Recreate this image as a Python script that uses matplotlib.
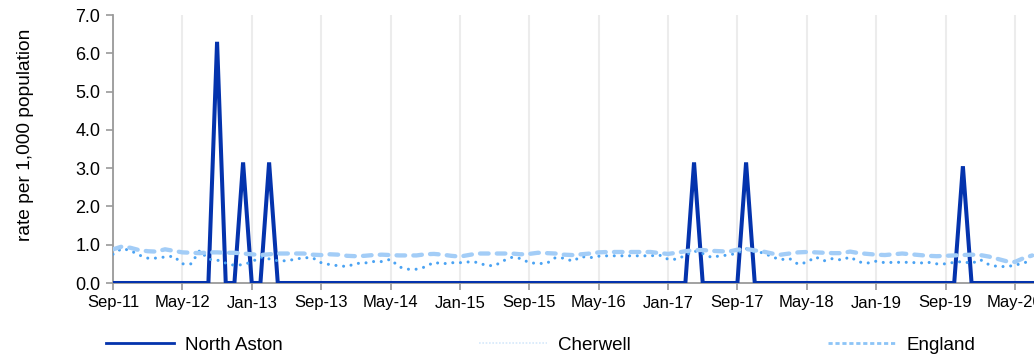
import matplotlib
matplotlib.use("Agg")
import matplotlib.pyplot as plt
from matplotlib.lines import Line2D
import pandas as pd
import numpy as np

plt.rcParams['font.family'] = ['Liberation Sans', 'DejaVu Sans']

# Monthly categories from Sep-2011
months = pd.date_range("2011-09-01", periods=107, freq="MS").strftime("%b-%y").tolist()

north_aston = [0.0] * 107
north_aston[12] = 6.3
north_aston[15] = 3.15
north_aston[18] = 3.15
north_aston[67] = 3.15
north_aston[73] = 3.15
north_aston[98] = 3.05

cherwell = [
    0.75, 0.90, 0.85, 0.73, 0.65, 0.65, 0.68, 0.70, 0.50, 0.50, 0.85, 0.62,
    0.60, 0.52, 0.46, 0.48, 0.55, 0.68, 0.63, 0.58, 0.58, 0.62, 0.66, 0.66,
    0.53, 0.48, 0.45, 0.43, 0.51, 0.52, 0.56, 0.56, 0.62, 0.42, 0.36, 0.36,
    0.42, 0.54, 0.50, 0.53, 0.53, 0.55, 0.54, 0.46, 0.45, 0.58, 0.67, 0.64,
    0.53, 0.51, 0.51, 0.66, 0.65, 0.57, 0.69, 0.66, 0.70, 0.71, 0.71, 0.71,
    0.71, 0.71, 0.71, 0.73, 0.62, 0.62, 0.72, 0.84, 0.77, 0.67, 0.71, 0.73,
    0.78, 0.90, 0.81, 0.79, 0.68, 0.61, 0.64, 0.49, 0.54, 0.68, 0.58, 0.64,
    0.60, 0.68, 0.55, 0.52, 0.57, 0.53, 0.54, 0.54, 0.54, 0.52, 0.54, 0.50,
    0.50, 0.54, 0.56, 0.51, 0.61, 0.48, 0.43, 0.43, 0.46, 0.53, 0.57,
]

england = [
    0.88, 0.95, 0.92, 0.86, 0.83, 0.82, 0.88, 0.84, 0.80, 0.79, 0.78, 0.80,
    0.80, 0.79, 0.79, 0.77, 0.75, 0.73, 0.75, 0.77, 0.77, 0.77, 0.77, 0.74,
    0.73, 0.75, 0.74, 0.71, 0.70, 0.71, 0.73, 0.74, 0.73, 0.72, 0.72, 0.72,
    0.75, 0.76, 0.74, 0.71, 0.69, 0.73, 0.77, 0.77, 0.77, 0.77, 0.77, 0.75,
    0.76, 0.79, 0.78, 0.77, 0.74, 0.73, 0.75, 0.77, 0.80, 0.81, 0.81, 0.81,
    0.81, 0.81, 0.81, 0.78, 0.76, 0.79, 0.83, 0.86, 0.86, 0.84, 0.83, 0.82,
    0.87, 0.89, 0.85, 0.82, 0.77, 0.74, 0.77, 0.80, 0.81, 0.80, 0.79, 0.78,
    0.78, 0.82, 0.78, 0.76, 0.74, 0.73, 0.75, 0.77, 0.75, 0.73, 0.71, 0.70,
    0.71, 0.72, 0.73, 0.74, 0.73, 0.69, 0.63, 0.57, 0.55, 0.65, 0.72,
]

y_ticks = [0, 1, 2, 3, 4, 5, 6, 7]
tick_step = 8

C_NA = "#0433ad"
C_CH = "#4ba3f3"
C_EN = "#a3cdf7"
C_AX = "#9a9a9a"

fig = plt.figure(figsize=(10.34, 3.55), dpi=100)
ax = fig.add_axes([113 / 1034, 1 - 283 / 355, 1 - 113 / 1034, (283 - 15) / 355])

x = np.arange(len(months))
ax.plot(x, north_aston, color=C_NA, lw=2.9, solid_joinstyle="miter", zorder=3)
ax.plot(x, cherwell, color=C_CH, lw=2.2, linestyle=(0, (0.01, 2.5)),
        dash_capstyle="round", zorder=4)
ax.plot(x, england, color=C_EN, lw=3.1, linestyle=(0, (2.0, 1.9)),
        dash_capstyle="round", zorder=5)

ax.set_xlim(0, 106.2)
ax.set_ylim(0, 7)
tick_pos = list(range(0, len(months), tick_step))
ax.set_xticks(tick_pos)
ax.set_xticklabels([months[i] for i in tick_pos], fontsize=12)
ax.set_yticks(y_ticks)
ax.set_yticklabels([f"{v:.1f}" for v in y_ticks], fontsize=13)
ax.set_ylabel("rate per 1,000 population", fontsize=13.8)
ax.yaxis.set_label_coords(-0.086, 0.552)

ax.grid(axis="x", color="#ececec", lw=1.5, zorder=0)
ax.set_axisbelow(True)
for s in ["top", "right"]:
    ax.spines[s].set_visible(False)
for s in ["left", "bottom"]:
    ax.spines[s].set_color(C_AX)
    ax.spines[s].set_linewidth(1.3)
    ax.spines[s].set_zorder(2)
ax.tick_params(axis="both", color=C_AX, length=5, width=1.2, direction="out")
ax.tick_params(axis="x", pad=4)
ax.tick_params(axis="y", pad=4)

handles = [
    Line2D([], [], color=C_NA, lw=2.0),
    Line2D([], [], color="#d5e9fb", lw=1.2, linestyle=(0, (1, 1))),
    Line2D([], [], color="#8cc4f7", lw=2.0, linestyle=(0, (1.5, 1))),
]
fig.legend(handles, ["North Aston", "Cherwell", "England"], loc="center",
           bbox_to_anchor=(0.523, 10 / 355), ncol=3, frameon=False, fontsize=13.5,
           handlelength=3.6, handletextpad=0.6, columnspacing=10.5)

fig.savefig("out.png", dpi=100)
